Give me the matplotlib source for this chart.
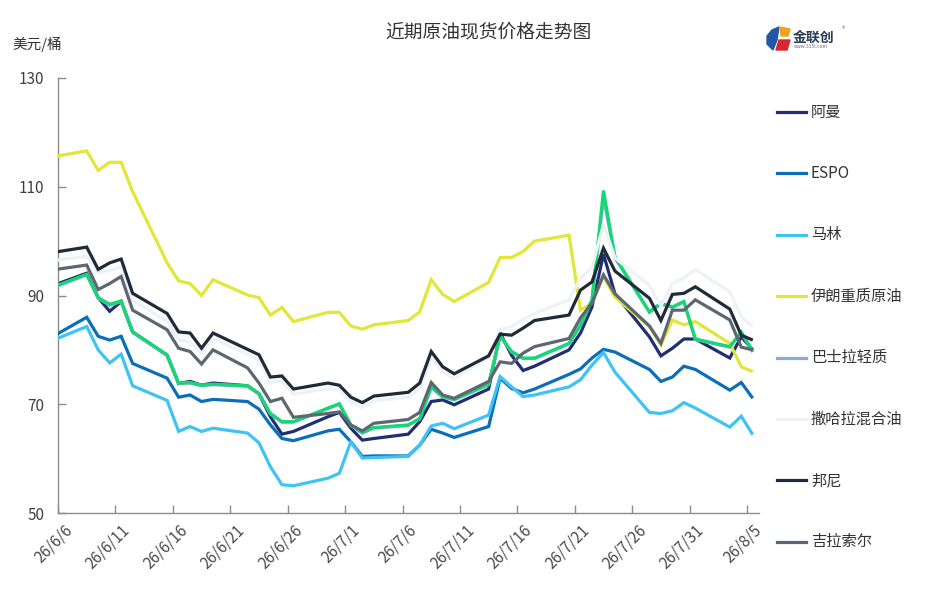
import matplotlib
matplotlib.use("Agg")
import matplotlib.pyplot as plt
import matplotlib.dates as mdates
from matplotlib.lines import Line2D
from matplotlib.patches import Polygon
import pandas as pd

plt.rcParams['font.family'] = ['Noto Sans CJK SC', 'DejaVu Sans']

# ---- data ----
dates = [
    "2026-06-05",
    "2026-06-08", "2026-06-09", "2026-06-10", "2026-06-11", "2026-06-12",
    "2026-06-15", "2026-06-16", "2026-06-17", "2026-06-18", "2026-06-19",
    "2026-06-22", "2026-06-23", "2026-06-24", "2026-06-25", "2026-06-26",
    "2026-06-29", "2026-06-30", "2026-07-01", "2026-07-02", "2026-07-03",
    "2026-07-06", "2026-07-07", "2026-07-08", "2026-07-09", "2026-07-10",
    "2026-07-13", "2026-07-14", "2026-07-15", "2026-07-16", "2026-07-17",
    "2026-07-20", "2026-07-21", "2026-07-22", "2026-07-23", "2026-07-24",
    "2026-07-27", "2026-07-28", "2026-07-29", "2026-07-30", "2026-07-31",
    "2026-08-03", "2026-08-04", "2026-08-05",
]

oman = [91.8, 94.1, 89.6, 87.1, 88.9, 83.3,
        79.0, 73.8, 74.2, 73.5, 73.9,
        73.4, 71.9, 67.7, 64.5, 65.0,
        67.7, 68.5, 65.6, 63.4, 63.7,
        64.5, 66.8, 70.5, 70.8, 69.9,
        72.8, 83.1, 79.0, 76.2, 77.0,
        80.0, 83.1, 87.9, 97.6, 90.3,
        82.4, 78.9, 80.3, 82.0, 82.0,
        78.5, 82.4, 80.0]

espo = [82.4, 86.0, 82.5, 81.8, 82.5, 77.5,
        74.8, 71.3, 71.7, 70.5, 70.9,
        70.5, 69.1, 66.2, 63.7, 63.3,
        65.1, 65.4, 63.1, 60.4, 60.5,
        60.5, 62.5, 65.4, 64.7, 63.9,
        65.9, 74.8, 72.9, 72.1, 72.8,
        75.5, 76.5, 78.5, 80.1, 79.6,
        76.4, 74.2, 75.0, 77.0, 76.4,
        72.6, 74.0, 71.1]

marlin = [81.7, 84.3, 80.0, 77.6, 79.2, 73.4,
          70.7, 65.0, 65.9, 65.0, 65.6,
          64.7, 62.9, 58.5, 55.2, 55.0,
          56.4, 57.3, 63.1, 60.1, 60.2,
          60.4, 62.5, 66.0, 66.5, 65.5,
          68.0, 75.1, 73.2, 71.4, 71.7,
          73.2, 74.5, 77.2, 79.5, 75.9,
          68.5, 68.3, 68.8, 70.3, 69.3,
          65.8, 67.8, 64.4]

iran_heavy = [115.5, 116.6, 113.0, 114.5, 114.5, 109.1,
              96.0, 92.7, 92.2, 90.0, 92.9,
              90.1, 89.6, 86.4, 87.8, 85.2,
              86.9, 86.9, 84.4, 83.8, 84.6,
              85.4, 87.0, 92.9, 90.2, 88.9,
              92.4, 97.0, 97.0, 98.1, 100.0,
              101.1, 87.3, 88.6, 93.5, 89.7,
              84.3, 80.9, 85.5, 84.6, 85.2,
              81.2, 76.9, 76.0]

basrah_light = [91.4, 93.8, 89.5, 88.2, 88.9, 83.2,
                79.0, 73.8, 73.9, 73.4, 73.6,
                73.3, 71.9, 68.2, 66.7, 66.7,
                69.2, 70.0, 66.1, 64.7, 65.6,
                66.1, 67.3, 73.1, 71.3, 70.8,
                73.6, 82.5, 79.6, 78.4, 78.4,
                81.1, 84.5, 89.1, 108.0, 96.9,
                86.9, 88.4, 87.8, 88.8, 81.9,
                80.5, 83.2, 79.6]

duri = [91.5, 93.9, 89.6, 88.4, 89.0, 83.3,
        79.1, 73.9, 74.0, 73.5, 73.7,
        73.4, 72.0, 68.3, 66.8, 66.8,
        69.3, 70.1, 66.2, 64.8, 65.7,
        66.2, 67.4, 73.2, 71.4, 70.9,
        73.7, 82.6, 79.7, 78.5, 78.5,
        81.2, 84.6, 89.2, 109.3, 97.1,
        87.0, 88.6, 87.9, 88.9, 82.0,
        80.6, 83.3, 79.7]

saharan = [96.4, 97.2, 94.2, 94.6, 95.3, 89.2,
           85.2, 81.8, 81.4, 79.4, 82.1,
           79.2, 78.1, 74.0, 74.3, 71.8,
           72.9, 72.6, 70.4, 69.4, 70.6,
           71.3, 72.9, 78.5, 76.0, 74.7,
           78.6, 83.7, 84.3, 85.6, 86.7,
           89.2, 93.2, 95.2, 103.1, 96.9,
           91.9, 88.1, 92.2, 93.2, 94.8,
           90.7, 86.1, 84.3]

bonny = [97.9, 98.9, 94.8, 96.0, 96.7, 90.4,
         86.7, 83.3, 83.1, 80.3, 83.1,
         80.1, 79.1, 75.0, 75.2, 72.8,
         73.9, 73.5, 71.3, 70.3, 71.5,
         72.2, 73.9, 79.7, 76.9, 75.6,
         78.9, 82.9, 82.7, 84.0, 85.4,
         86.4, 91.0, 92.5, 98.7, 94.5,
         89.5, 85.4, 90.2, 90.4, 91.6,
         87.5, 82.7, 81.8]

girassol = [94.7, 95.6, 91.1, 92.2, 93.5, 87.3,
            83.7, 80.3, 79.7, 77.4, 80.0,
            76.7, 73.9, 70.5, 71.1, 67.6,
            68.3, 68.6, 66.2, 65.1, 66.5,
            67.2, 68.5, 74.0, 71.7, 71.1,
            74.2, 77.8, 77.5, 79.4, 80.6,
            82.1, 85.9, 88.6, 93.8, 90.3,
            84.4, 81.2, 87.3, 87.3, 89.2,
            85.5, 80.5, 80.0]

tick_labels = ["26/6/6", "26/6/11", "26/6/16", "26/6/21", "26/6/26", "26/7/1",
               "26/7/6", "26/7/11", "26/7/16", "26/7/21", "26/7/26", "26/7/31",
               "26/8/5"]
y_ticks = [50, 70, 90, 110, 130]

series_names = ["阿曼", "ESPO", "马林", "伊朗重质原油", "巴士拉轻质",
                "撒哈拉混合油", "邦尼", "吉拉索尔", "杜里"]
series_values = [oman, espo, marlin, iran_heavy, basrah_light,
                 saharan, bonny, girassol, duri]
colors = ["#1f2f72", "#0a6fb8", "#3fc3f5", "#e2e637", "#8eaad2",
          "#eef2f7", "#1f2b38", "#5d6772", "#14d874"]
zorders = [2, 3, 4, 5, 5.5, 7, 8, 9, 6]
n_legend_visible = 8   # the 9th legend entry falls outside the picture

# ---- figure ----
W, H = 937, 601
fig = plt.figure(figsize=(W / 100, H / 100), dpi=100)
ax = fig.add_axes([58 / W, 1 - 513 / H, 700.5 / W, 435 / H])

x = mdates.date2num(pd.to_datetime(dates)) + 0.5

for name, vals, c, z in zip(series_names, series_values, colors, zorders):
    ax.plot(x, vals, color=c, lw=2.3, zorder=z, solid_joinstyle='miter',
            solid_capstyle='butt')

x0 = mdates.date2num(pd.Timestamp("2026-06-06"))
x1 = mdates.date2num(pd.Timestamp("2026-08-06"))
ax.set_xlim(x0, x1)
ax.set_ylim(50, 130)

tick_dates = mdates.date2num(pd.to_datetime(
    ["20" + t.replace("/", "-") for t in tick_labels]))
ax.set_xticks(tick_dates)
ax.set_xticklabels([])
ax.set_xticks(tick_dates + 0.5, minor=True)
ax.set_xticklabels(tick_labels, minor=True, rotation=45, ha='right',
                   va='top', rotation_mode='anchor', fontsize=11,
                   color='#4a4a4a')
ax.tick_params(axis='x', which='minor', length=0, pad=6)
ax.tick_params(axis='x', which='major', direction='in', length=6,
               color='#8c8c8c', width=1)

ax.set_yticks(y_ticks)
ax.set_yticklabels([str(v) for v in y_ticks], fontsize=11, color='#404040')
ax.tick_params(axis='y', direction='in', length=6, color='#8c8c8c',
               width=1, pad=10)

for s in ['top', 'right']:
    ax.spines[s].set_visible(False)
for s in ['left', 'bottom']:
    ax.spines[s].set_color('#8c8c8c')
    ax.spines[s].set_linewidth(1)

# title and unit
fig.text(488 / W, 1 - 32 / H, "近期原油现货价格走势图", ha='center',
         va='center', fontsize=13.5, color='#333333', fontweight='medium')
fig.text(12 / W, 1 - 44 / H, "美元/桶", ha='left', va='center',
         fontsize=10.5, color='#333333')

# legend (manual, right side)
for i, (name, c) in enumerate(zip(series_names[:n_legend_visible],
                                  colors[:n_legend_visible])):
    yy = 1 - (112 + i * 61.4) / H
    fig.add_artist(Line2D([777 / W, 806 / W], [yy, yy],
                          transform=fig.transFigure, color=c, lw=2.3))
    fig.text(811 / W, yy, name, ha='left', va='center', fontsize=11,
             color='#333333', fontweight='medium')

# logo
def fpt(px, py):
    return (px / W, 1 - py / H)

fig.add_artist(Polygon([fpt(772, 30), fpt(779, 27), fpt(777, 40), fpt(773, 50),
                        fpt(767, 44), fpt(767, 36)], closed=True,
                       transform=fig.transFigure, color='#2257a8'))
fig.add_artist(Polygon([fpt(780, 27), fpt(790, 29), fpt(788, 36), fpt(781, 36)],
                       closed=True, transform=fig.transFigure, color='#f0a21a'))
fig.add_artist(Polygon([fpt(779, 40), fpt(790, 40), fpt(787, 50), fpt(776, 50)],
                       closed=True, transform=fig.transFigure, color='#d8262c'))
fig.text(793 / W, 1 - 38 / H, "金联创", ha='left', va='center', fontsize=10,
         color='#2a3a5a', fontweight='bold')
fig.text(794 / W, 1 - 47 / H, "www.315i.com", ha='left', va='center',
         fontsize=3.5, color='#666666')
fig.text(842 / W, 1 - 29 / H, "®", ha='left', va='center', fontsize=5,
         color='#666666')

fig.savefig("out.png", dpi=100)
